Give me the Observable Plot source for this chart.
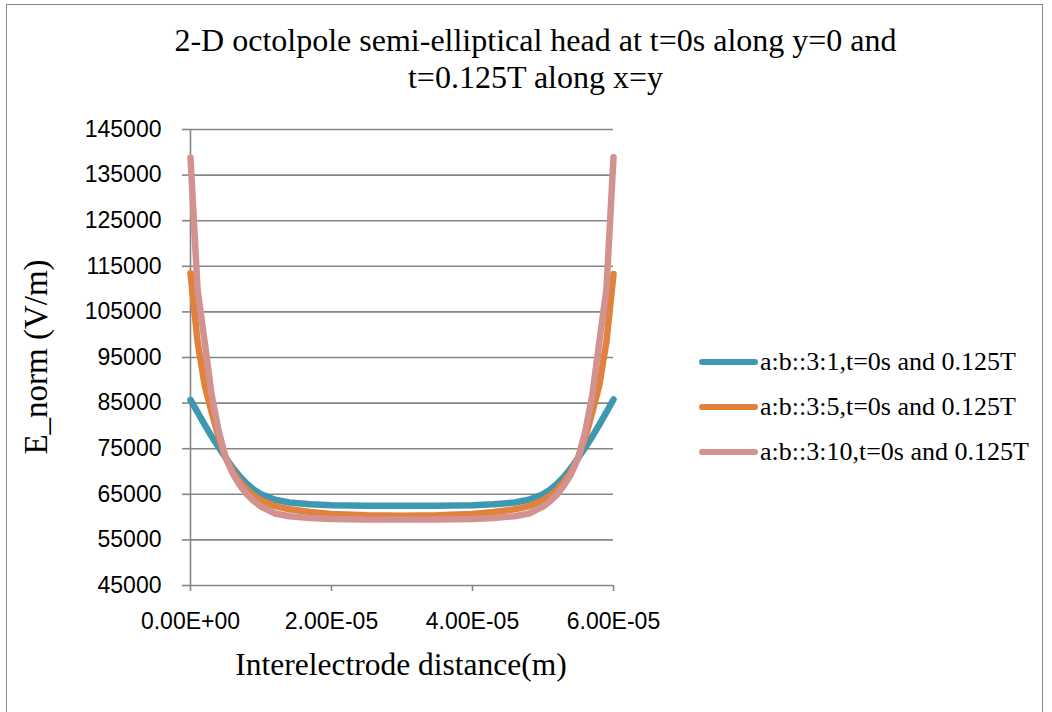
<!DOCTYPE html>
<html>
<head>
<meta charset="utf-8">
<script src="https://cdn.jsdelivr.net/npm/d3@7"></script>
<script src="https://cdn.jsdelivr.net/npm/@observablehq/plot@0.6"></script>
<style>
  html, body { margin: 0; padding: 0; background: #fff; }
  #chart { position: relative; width: 1052px; height: 712px; overflow: hidden; background: #fff; }
  #frame { position: absolute; left: 6px; top: 4px; width: 1037px; height: 800px; border: 1.5px solid #8a8a8a; box-sizing: border-box; }
  #title { position: absolute; left: 0; top: 22px; width: 1071px; text-align: center; font-family: "Liberation Serif", "Times New Roman", serif; font-size: 32px; line-height: 37px; color: #000; }
  #plot { position: absolute; left: 0; top: 110px; }
  #xtitle { position: absolute; left: 101px; width: 600px; top: 646px; text-align: center; font-family: "Liberation Serif", serif; font-size: 31.5px; line-height: 38px; color: #000; }
  #ytitle { position: absolute; left: 36px; top: 357px; transform: translate(-50%, -50%) rotate(-90deg); white-space: nowrap; font-family: "Liberation Serif", serif; font-size: 33px; line-height: 36px; color: #000; }
  #legend { position: absolute; left: 698px; top: 339px; font-family: "Liberation Serif", serif; font-size: 26px; color: #000; }
  .row { display: flex; align-items: center; height: 45px; white-space: nowrap; }
  .row svg { margin-right: 2px; }
</style>
</head>
<body>
<div id="chart">
  <div id="frame"></div>
  <div id="title"></div>
  <div id="plot"></div>
  <div id="xtitle"></div>
  <div id="ytitle"></div>
  <div id="legend"></div>
</div>
<script>
// ---- Data (x in micrometres along the interelectrode gap; E_norm in V/m) ----
const xUm = [0,1,2,3,4,5,6,7,8,9,10,12,14,17,20,25,30,35,40,43,46,48,50,51,52,53,54,55,56,57,58,59,60];
const eRatio3to1 = [85700,83000,80300,77700,75300,73000,70800,68900,67300,66000,65000,63800,63200,62800,62600,62500,62500,
                    62500,62600,62800,63200,63800,65000,66000,67300,68900,70800,73000,75300,77700,80300,83000,85800];
const eRatio3to5 = [113500,98500,89000,83000,77500,73000,70000,67800,66000,64700,63700,62400,61700,61100,60700,60400,60300,
                    60400,60700,61100,61700,62400,63700,64700,66000,67800,70000,73000,77500,83000,89000,98500,113300];
const eRatio3to10 = [138800,110000,98500,86800,78800,73000,69500,67000,65000,63500,62300,60800,60200,59800,59600,59500,59500,
                     59500,59600,59800,60200,60800,62300,63500,65000,67000,69500,73000,78800,86800,98500,110000,138900];
const seriesNames = ["a:b::3:1,t=0s and 0.125T", "a:b::3:5,t=0s and 0.125T", "a:b::3:10,t=0s and 0.125T"];
const seriesColors = ["#3f98b1", "#e0823c", "#d39190"];
const xTicks = [0, 2e-5, 4e-5, 6e-5];
const xTickLabels = ["0.00E+00", "2.00E-05", "4.00E-05", "6.00E-05"];
const yTicks = [45000,55000,65000,75000,85000,95000,105000,115000,125000,135000,145000];
const titleLines = ["2-D octolpole semi-elliptical head at t=0s along y=0 and", "t=0.125T along x=y"];
const xTitle = "Interelectrode distance(m)";
const yTitle = "E_norm (V/m)";

// ---- Build table ----
const seriesValues = [eRatio3to1, eRatio3to5, eRatio3to10];
const rows = seriesValues.flatMap((vals, s) =>
  vals.map((v, i) => ({x: xUm[i] * 1e-6, y: v, series: seriesNames[s]})));

const gray = "#868686";
const plot = Plot.plot({
  width: 1052,
  height: 602,
  marginLeft: 190,
  marginRight: 439,
  marginTop: 19,
  marginBottom: 127,
  style: {background: "transparent"},
  x: {domain: [0, 6e-5]},
  y: {domain: [45000, 145000]},
  color: {domain: seriesNames, range: seriesColors},
  marks: [
    Plot.gridY(yTicks, {stroke: gray, strokeOpacity: 1, strokeWidth: 1.6}),
    Plot.ruleX([0], {stroke: gray, strokeWidth: 1.6}),
    Plot.axisY(yTicks, {
      tickSize: 8, tickPadding: 21, stroke: gray, strokeWidth: 1.6,
      tickFormat: d3.format("d"), fontSize: 23, fontFamily: "Liberation Sans, Arial, sans-serif",
      fill: "#000", label: null
    }),
    Plot.axisX(xTicks, {
      tickSize: 6, tickPadding: 21, stroke: gray, strokeWidth: 1.6,
      tickFormat: d => xTickLabels[xTicks.indexOf(d)], fontSize: 23,
      fontFamily: "Liberation Sans, Arial, sans-serif", fill: "#000", label: null
    }),
    Plot.line(rows, {
      x: "x", y: "y", z: "series", stroke: "series",
      strokeWidth: 6.5, strokeLinecap: "round", strokeLinejoin: "round"
    })
  ]
});
document.getElementById("plot").appendChild(plot);

// ---- Titles ----
document.getElementById("title").innerHTML = titleLines.map(t => `<div>${t}</div>`).join("");
document.getElementById("xtitle").textContent = xTitle;
document.getElementById("ytitle").textContent = yTitle;

// ---- Legend ----
const legend = document.getElementById("legend");
seriesNames.forEach((name, i) => {
  const row = document.createElement("div");
  row.className = "row";
  row.innerHTML = `<svg width="60" height="10"><line x1="4" y1="5" x2="57" y2="5" stroke="${seriesColors[i]}" stroke-width="6" stroke-linecap="round"/></svg><span>${name}</span>`;
  legend.appendChild(row);
});
</script>
</body>
</html>
